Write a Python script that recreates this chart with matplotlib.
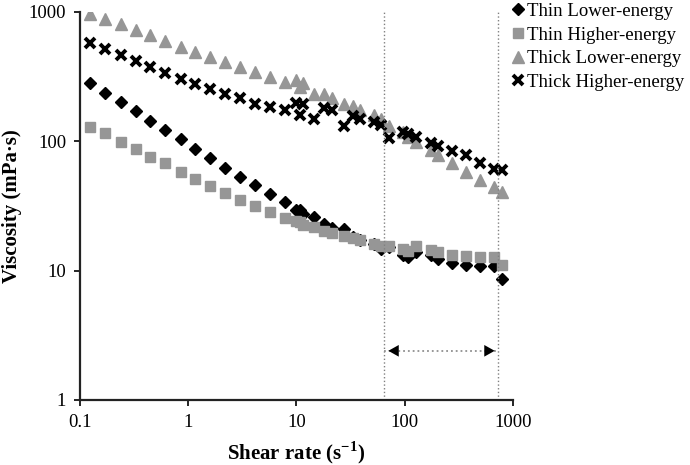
import matplotlib
matplotlib.use("Agg")
import matplotlib.pyplot as plt

plt.rcParams['font.family'] = ['Liberation Serif', 'DejaVu Serif']
plt.rcParams['mathtext.fontset'] = 'custom'
plt.rcParams['mathtext.rm'] = 'Liberation Serif'
plt.rcParams['mathtext.bf'] = 'Liberation Serif:bold'

# shear rate (1/s)
shear = [0.125, 0.172, 0.237, 0.328, 0.448, 0.616, 0.853, 1.16, 1.60, 2.20,
         3.03, 4.16, 5.64, 7.8, 9.8, 10.8, 11.6, 14.6, 18.1, 21.2,
         27.7, 33.5, 38.6, 52.4, 60.3, 71.9, 95.5, 108, 128, 174,
         204, 272, 371, 497, 668, 787]

# viscosity (mPa.s)
thin_low = [285, 238, 202, 171, 144, 122, 104, 87.8, 74.3, 62.5,
            53, 45.6, 39.3, 33.9, 29.2, 29.5, 27.5, 25.9, 23.0, 21.4,
            21.0, 18.1, 17.3, 16.1, 14.7, 15.2, 13.1, 12.7, 13.9, 13.1,
            12.2, 11.5, 11.1, 10.8, 10.9, 8.6]
thin_high = [129, 116, 98.9, 87.8, 75.7, 68, 57.8, 50.7, 45.1, 39.8,
             34.9, 31.5, 28.3, 25.6, 24.1, 23.7, 22.7, 21.7, 20.4, 19.5,
             18.7, 17.8, 17.3, 16.1, 15.6, 15.6, 14.7, 14.3, 15.6, 14.5,
             13.9, 13.3, 12.9, 12.7, 12.8, 11.1]
thick_low = [965, 883, 807, 725, 663, 600, 538, 492, 450, 412,
             377, 345, 315, 289, 297, 261, 280, 234, 231, 218,
             194, 187, 176, 159, 148, 131, 118, 108, 99, 85,
             79, 68, 58, 50, 44, 40.5]
thick_high = [572, 516, 464, 417, 373, 339, 306, 277, 256, 231,
              217, 196, 185, 176, 198, 159, 194, 150, 182, 174,
              131, 156, 150, 141, 133, 107, 118, 113, 108, 97,
              92, 84, 78, 68, 61, 59.5]

labels = ['Thin Lower-energy', 'Thin Higher-energy',
          'Thick Lower-energy', 'Thick Higher-energy']
region = [64, 723]      # vertical dotted lines
arrow_y = 2.4

gray = '#969696'

fig = plt.figure(figsize=(6.9, 4.65), dpi=100)
ax = fig.add_axes([0.1159, 0.1398, 0.6275, 0.8344])

ax.plot(shear, thin_low, 'D', color='black', ms=6, ls='none', label=labels[0])
ax.plot(shear, thin_high, 's', color=gray, ms=7, ls='none', label=labels[1])
ax.plot(shear, thick_low, '^', color=gray, ms=9, ls='none', label=labels[2])
ax.plot(shear, thick_high, 'x', color='black', ms=6.5, mew=2.8, ls='none', label=labels[3])

for xv in region:
    ax.axvline(xv, color='#808080', lw=1, ls=':')

# double arrow between the two lines: dotted shaft, solid black heads
ax.plot(region, [arrow_y, arrow_y], color='#909090', lw=1.3, ls=':')
head = dict(arrowstyle='-|>,head_length=0.75,head_width=0.42', color='black', lw=0)
ax.annotate('', xy=(region[0] * 1.04, arrow_y), xytext=(region[0] * 1.25, arrow_y),
            arrowprops=head)
ax.annotate('', xy=(region[1] * 0.995, arrow_y), xytext=(region[1] * 0.8, arrow_y),
            arrowprops=head)

ax.set_xscale('log')
ax.set_yscale('log')
ax.set_xlim(0.1, 1000)
ax.set_ylim(1, 1000)
ax.set_xticks([0.1, 1, 10, 100, 1000])
ax.set_xticklabels(['0.1', '1', '10', '100', '1000'])
ax.set_yticks([1, 10, 100, 1000])
ax.set_yticklabels(['1', '10', '100', '1000'])
ax.minorticks_off()
ax.tick_params(labelsize=13.5, length=4, width=1.2, direction='out', pad=6)

for s in ['top', 'right']:
    ax.spines[s].set_visible(False)
for s in ['left', 'bottom']:
    ax.spines[s].set_linewidth(1.6)
    ax.spines[s].set_color('#222222')

ax.set_xlabel('Shear rate (s$^{\\mathbf{-1}}$)', fontsize=15, fontweight='bold', labelpad=6)
ax.set_ylabel('Viscosity (mPa·s)', fontsize=15, fontweight='bold', labelpad=5)

fig.legend(loc='upper left', bbox_to_anchor=(0.742, 0.994), frameon=False,
           fontsize=13.5, handlelength=0.6, handletextpad=0.2,
           labelspacing=0.35, borderpad=0, borderaxespad=0)

plt.savefig('out.png', dpi=100)
